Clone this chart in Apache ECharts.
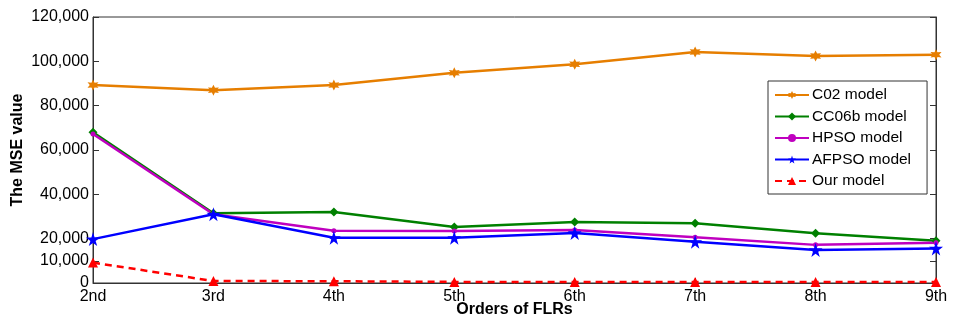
<!DOCTYPE html>
<html>
<head>
<meta charset="utf-8">
<script src="https://cdn.jsdelivr.net/npm/echarts@6/dist/echarts.min.js"></script>
<style>html,body{margin:0;padding:0;background:#fff}#c{width:957px;height:323px}</style>
</head>
<body>
<div id="c"></div>
<script>
const categories = ['2nd','3rd','4th','5th','6th','7th','8th','9th'];
const c02 = [89300, 87000, 89300, 94800, 98700, 104200, 102400, 103000];
const cc06b = [68000, 31500, 32000, 25300, 27500, 27000, 22400, 19100];
const hpso = [67200, 31000, 23600, 23500, 23900, 20600, 17200, 18200];
const afpso = [19800, 31000, 20400, 20400, 22600, 18600, 14900, 15600];
const ours = [9200, 900, 800, 500, 500, 500, 500, 500];
const yTicks = [0, 10000, 20000, 40000, 60000, 80000, 100000, 120000];
const seriesNames = ['C02 model','CC06b model','HPSO model','AFPSO model','Our model'];

const FONT = '"Liberation Sans", Arial, sans-serif';
const star5 = 'path://M50,0 L61,35 L98,35 L68,57 L79,91 L50,70 L21,91 L32,57 L2,35 L39,35 Z';
const star6 = 'path://M50,0 L62,28 L93,25 L75,50 L93,75 L62,72 L50,100 L38,72 L7,75 L25,50 L7,25 L38,28 Z';

const chart = echarts.init(document.getElementById('c'));
function mk(name, data, color, symbol, size, dashed) {
  return {
    name, type: 'line', data, symbol, symbolSize: size,
    itemStyle: { color },
    lineStyle: { color, width: 2.5, type: dashed ? [7, 5] : 'solid' },
    z: 3
  };
}
chart.setOption({
  animation: false,
  backgroundColor: '#fff',
  grid: { left: 93, right: 21, top: 17, bottom: 40, show: true, borderColor: '#333', borderWidth: 1,
    backgroundColor: 'transparent', containLabel: false, outerBoundsMode: 'none' },
  legend: {
    orient: 'vertical', left: 768, top: 81,
    data: seriesNames,
    itemWidth: 34, itemHeight: 10, itemGap: 5.5,
    padding: [6, 16, 5, 6],
    backgroundColor: '#fff', borderColor: '#333', borderWidth: 1,
    textStyle: { fontFamily: FONT, fontSize: 15.5, color: '#000', padding: [0, 0, 0, -2] }
  },
  xAxis: [{
    type: 'category', data: categories, boundaryGap: false,
    name: 'Orders of FLRs', nameLocation: 'middle', nameGap: 19, nameMoveOverlap: false,
    nameTextStyle: { fontFamily: FONT, fontSize: 16, fontWeight: 'bold', color: '#000' },
    axisLine: { lineStyle: { color: '#333', width: 1 } },
    axisTick: { inside: true, length: 5, lineStyle: { color: '#333' } },
    axisLabel: { fontFamily: FONT, fontSize: 16, color: '#000', margin: 6 },
    splitLine: { show: false }
  }],
  yAxis: [{
    type: 'value', min: 0, max: 120000, interval: 10000,
    name: 'The MSE value', nameLocation: 'middle', nameGap: 67, nameMoveOverlap: false,
    nameTextStyle: { fontFamily: FONT, fontSize: 16, fontWeight: 'bold', color: '#000' },
    axisLine: { show: true, lineStyle: { color: '#333', width: 1 } },
    axisTick: { show: true, inside: true, length: 6, customValues: yTicks, lineStyle: { color: '#333' } },
    axisLabel: { fontFamily: FONT, fontSize: 16, color: '#000', margin: 4, customValues: yTicks,
      formatter: v => v.toLocaleString('en-US') },
    splitLine: { show: false }
  }, {
    type: 'value', min: 0, max: 120000, interval: 10000, position: 'right',
    axisLine: { show: true, lineStyle: { color: '#333', width: 1 } },
    axisTick: { show: true, inside: true, length: 6, customValues: yTicks, lineStyle: { color: '#333' } },
    axisLabel: { show: false },
    splitLine: { show: false }
  }],
  series: [
    mk('C02 model', c02, '#E67E00', star6, 11, false),
    mk('CC06b model', cc06b, '#008000', 'diamond', 9, false),
    mk('HPSO model', hpso, '#BF00BF', 'circle', 5, false),
    mk('AFPSO model', afpso, '#0000FF', star5, 14, false),
    mk('Our model', ours, '#FF0000', 'triangle', 10, true)
  ]
});
</script>
</body>
</html>
